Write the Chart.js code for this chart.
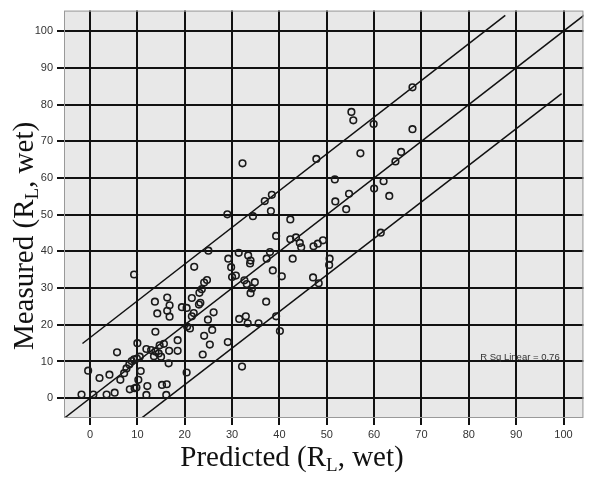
<!DOCTYPE html>
<html>
<head>
<meta charset="utf-8">
<script src="https://cdn.jsdelivr.net/npm/chart.js@4/dist/chart.umd.min.js"></script>
<style>
  body { margin: 0; background: #fff; }
  canvas { display: block; }
</style>
</head>
<body>
<canvas id="scatter-chart" width="589" height="477"></canvas>
<script>
// values
const predicted = [
  -1.8, 0.7, -0.4, 2.0, 4.1, 3.5, 5.2, 5.7, 6.4, 7.2, 7.7, 8.3, 8.8, 9.3, 9.9, 10.5, 10.0, 10.7, 10.2, 9.8,
  8.4, 9.4, 11.9, 12.1, 11.9, 12.9, 13.8, 13.5, 14.5, 14.7, 15.6, 15.0, 15.2, 16.2, 16.1, 16.7, 16.6, 18.5, 18.5, 13.8,
  14.2, 13.7, 16.3, 16.8, 16.3, 16.8, 20.4, 19.4, 20.4, 21.5, 21.9, 21.5, 20.5, 21.1, 23.0, 23.3, 23.1, 23.6, 24.1, 24.7,
  24.9, 26.1, 24.1, 25.8, 25.3, 23.8, 9.3, 29.1,
  29.0, 34.4, 36.9, 38.4, 38.2, 42.3, 39.3, 42.3, 43.5, 44.3, 44.6, 47.2, 48.1, 49.2, 51.7, 51.8, 25.0, 22.0, 29.2, 31.4,
  33.4, 33.9, 33.8, 29.8, 30.0, 30.8, 32.6, 33.1, 34.8, 34.2, 33.9, 37.3, 38.0, 38.6, 40.5, 42.8, 50.6, 50.5, 47.1, 48.3,
  37.2, 31.5, 32.9, 33.3, 35.6, 39.3, 40.1,
  68.1, 55.2, 55.6, 59.9, 68.1, 57.1, 65.7, 64.5, 47.8, 62.0, 60.0, 54.7, 63.2, 54.1, 61.4,
  32.2, 32.1
];
const measured = [
  1.0, 1.0, 7.5, 5.5, 6.4, 1.0, 1.5, 12.5, 5.0, 6.8, 8.1, 9.2, 10.1, 10.6, 10.8, 11.3, 15.0, 7.4, 5.0, 2.9,
  2.4, 2.7, 0.9, 3.3, 13.4, 13.1, 12.7, 11.4, 12.2, 14.4, 14.8, 11.3, 3.6, 3.8, 0.9, 12.9, 9.5, 12.9, 15.8, 18.1,
  23.1, 26.3, 27.4, 25.3, 23.8, 22.2, 7.0, 24.8, 24.6, 27.3, 23.2, 22.3, 19.5, 19.0, 25.5, 26.0, 28.7, 29.7, 31.5, 32.2,
  21.4, 23.4, 17.0, 18.6, 14.6, 11.9, 33.7, 15.3,
  50.1, 49.6, 53.7, 55.4, 51.0, 48.7, 44.2, 43.3, 43.8, 42.3, 41.1, 41.4, 42.1, 43.0, 59.6, 53.6, 40.2, 35.8, 38.0, 39.6,
  38.9, 37.5, 36.7, 35.7, 33.0, 33.4, 32.1, 31.1, 31.6, 29.9, 28.6, 38.0, 39.8, 34.8, 33.2, 38.0, 38.0, 36.3, 32.9, 31.3,
  26.3, 21.6, 22.3, 20.4, 20.4, 22.3, 18.3,
  84.7, 78.0, 75.7, 74.7, 73.3, 66.7, 67.1, 64.5, 65.2, 59.1, 57.1, 55.7, 55.1, 51.5, 45.1,
  64.0, 8.6
];

// fit line and the two interval lines (end points)
const fitX = [-6, 106];
const fitY = [-6, 106];
const upperX = [-1.6, 87.7];
const upperY = [14.9, 104.3];
const lowerX = [10.8, 99.6];
const lowerY = [-5.5, 83.0];

const xTicks = [0, 10, 20, 30, 40, 50, 60, 70, 80, 90, 100];
const yTicks = [0, 10, 20, 30, 40, 50, 60, 70, 80, 90, 100];
const rSquared = 0.76;

const toPoints = (xs, ys) => xs.map((x, i) => ({x: x, y: ys[i]}));

function lineSet(xs, ys) {
    return {
        type: 'line',
        data: toPoints(xs, ys),
        showLine: true,
        borderColor: '#111',
        borderWidth: 1.5,
        pointRadius: 0,
        fill: false
    };
}

// draws a title with a subscript part, centred on x
function drawSubText(ctx, parts, x, y) {
    let total = 0;
    parts.forEach(p => {
        ctx.font = p.size + 'px "Liberation Serif", "Times New Roman", serif';
        p.w = ctx.measureText(p.text).width;
        total += p.w;
    });
    let cx = x - total / 2;
    parts.forEach(p => {
        ctx.font = p.size + 'px "Liberation Serif", "Times New Roman", serif';
        ctx.fillText(p.text, cx, y + p.shift);
        cx += p.w;
    });
}

const decor = {
    id: 'decor',
    beforeDraw(chart) {
        const {ctx, chartArea: a} = chart;
        ctx.save();
        ctx.fillStyle = '#e8e8e8';
        ctx.fillRect(a.left, a.top, a.right - a.left, a.bottom - a.top);
        ctx.restore();
    },
    afterDraw(chart) {
        const {ctx, chartArea: a} = chart;
        const xs = chart.scales.x, ys = chart.scales.y;
        ctx.save();
        ctx.strokeStyle = '#999';
        ctx.lineWidth = 1;
        ctx.strokeRect(a.left + 0.5, a.top + 0.5, a.right - a.left - 1, a.bottom - a.top - 1);

        ctx.fillStyle = '#111';
        ctx.textBaseline = 'alphabetic';
        ctx.textAlign = 'left';
        drawSubText(ctx, [
            {text: 'Predicted (R', size: 29, shift: 0},
            {text: 'L', size: 19, shift: 5},
            {text: ', wet)', size: 29, shift: 0}
        ], 292, 466);

        ctx.translate(33, 236);
        ctx.rotate(-Math.PI / 2);
        drawSubText(ctx, [
            {text: 'Measured (R', size: 29, shift: 0},
            {text: 'L', size: 19, shift: 5},
            {text: ', wet)', size: 29, shift: 0}
        ], 0, 0);
        ctx.restore();

        ctx.save();
        ctx.fillStyle = '#333';
        ctx.font = '9.5px "Liberation Sans", Arial, sans-serif';
        ctx.textBaseline = 'middle';
        ctx.fillText('R Sq Linear = ' + rSquared, xs.getPixelForValue(82.4), ys.getPixelForValue(11));
        ctx.restore();
    }
};

const ctx = document.getElementById('scatter-chart');

new Chart(ctx, {
    type: 'scatter',
    data: {
        datasets: [
            {
                data: toPoints(predicted, measured),
                pointStyle: 'circle',
                pointRadius: 3.3,
                borderColor: '#1a1a1a',
                borderWidth: 1.6,
                backgroundColor: 'rgba(0,0,0,0)'
            },
            lineSet(fitX, fitY),
            lineSet(upperX, upperY),
            lineSet(lowerX, lowerY)
        ]
    },
    options: {
        responsive: false,
        animation: false,
        layout: {padding: {top: 6, right: 3, left: 0, bottom: 0}},
        plugins: {
            legend: {display: false},
            tooltip: {enabled: false}
        },
        scales: {
            x: {
                type: 'linear',
                min: -5.5,
                max: 104.2,
                afterBuildTicks: s => { s.ticks = xTicks.map(v => ({value: v})); },
                afterFit: s => { s.height = 59; },
                grid: {color: '#111', lineWidth: 2, tickLength: 7},
                border: {display: false},
                ticks: {color: '#333', font: {family: '"Liberation Sans", Arial', size: 11}, padding: 3, maxRotation: 0}
            },
            y: {
                type: 'linear',
                min: -5.4,
                max: 105.6,
                afterBuildTicks: s => { s.ticks = yTicks.map(v => ({value: v})); },
                afterFit: s => { s.width = 64; },
                grid: {color: '#111', lineWidth: 2, tickLength: 7},
                border: {display: false},
                ticks: {color: '#333', font: {family: '"Liberation Sans", Arial', size: 11}, padding: 4}
            }
        }
    },
    plugins: [decor]
});
</script>
</body>
</html>
